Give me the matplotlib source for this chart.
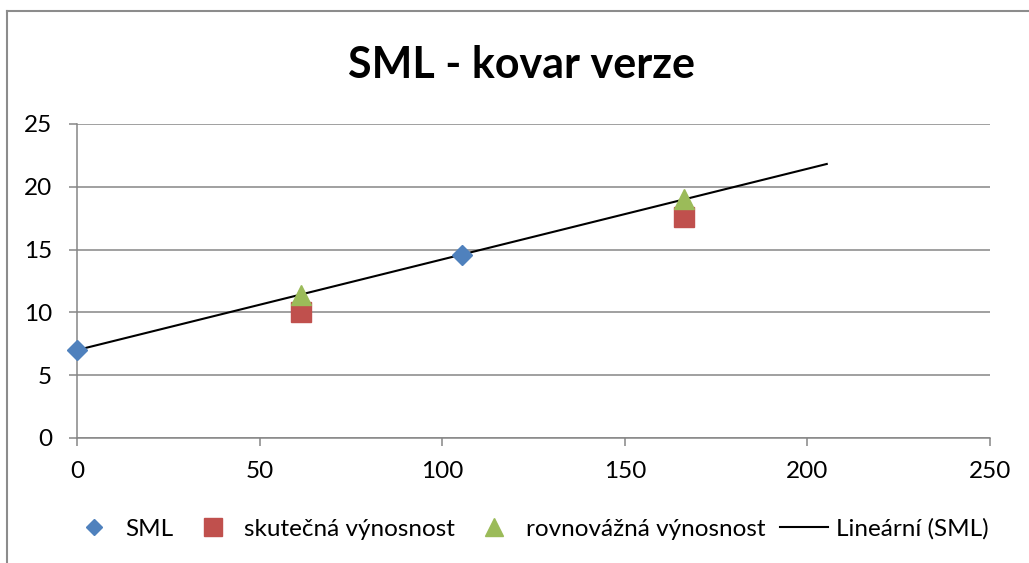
import numpy as np
import matplotlib
matplotlib.use("Agg")
import matplotlib.pyplot as plt
from matplotlib.lines import Line2D

plt.rcParams['font.family'] = ['Lato', 'DejaVu Sans']

title = "SML - kovar verze"
sml_x = [0, 105.3]
sml_y = [7.0, 14.6]
skut_x = [61.3, 166.3]
skut_y = [10.0, 17.57]
rovn_x = [61.3, 166.3]
rovn_y = [11.4, 19.0]
trend_forward = 100
labels = ["SML", "skutečná výnosnost", "rovnovážná výnosnost", "Lineární (SML)"]

blue = "#4F81BD"
red = "#C0504D"
green = "#9BBB59"
grid_c = "#868686"

W, H = 1029, 563
fig = plt.figure(figsize=(W / 100, H / 100), dpi=100)
ax = fig.add_axes([77 / W, 1 - 438 / H, (990 - 77) / W, (438 - 124) / H])

ax.set_xlim(0, 250)
ax.set_ylim(0, 25)
ax.set_xticks(np.arange(0, 251, 50))
ax.set_yticks(np.arange(0, 26, 5))
ax.yaxis.grid(True, color=grid_c, linewidth=1.1)
ax.set_axisbelow(True)
for s in ['top', 'right']:
    ax.spines[s].set_visible(False)
for s in ['left', 'bottom']:
    ax.spines[s].set_color(grid_c)
    ax.spines[s].set_linewidth(1.1)
ax.tick_params(axis='both', colors=grid_c, length=5.8, width=1.1, labelsize=17.5,
               labelcolor='black')
ax.tick_params(axis='x', pad=10.5)
ax.tick_params(axis='y', pad=12)

# trendline
coef = np.polyfit(sml_x, sml_y, 1)
tx = np.array([min(sml_x), max(sml_x) + trend_forward])
ax.plot(tx, np.polyval(coef, tx), color='black', linewidth=1.5, zorder=3)

ax.plot(sml_x, sml_y, linestyle='none', marker='D', ms=10.5, color=blue, zorder=4,
        clip_on=False)
ax.plot(skut_x, skut_y, linestyle='none', marker='s', ms=14, color=red, zorder=4,
        clip_on=False)
ax.plot(rovn_x, rovn_y, linestyle='none', marker='^', ms=14, color=green, zorder=4,
        clip_on=False)

fig.text(522 / W, 1 - 65 / H, title, ha='center', va='center', fontsize=31,
         fontweight='bold')

handles = [
    Line2D([], [], linestyle='none', marker='D', ms=8.5, color=blue),
    Line2D([], [], linestyle='none', marker='s', ms=13, color=red),
    Line2D([], [], linestyle='none', marker='^', ms=13, color=green),
    Line2D([], [], color='black', linewidth=1.5),
]
fig.legend(handles, labels, loc='center', bbox_to_anchor=(529 / W, 1 - 529 / H),
           ncol=4, frameon=False, fontsize=17.5, handlelength=2.0,
           columnspacing=0.6, handletextpad=0.3)

# chart frame
fig.add_artist(Line2D([7 / W, 7 / W], [0, 1 - 11 / H], color='#8c8c8c',
                      linewidth=1.5, transform=fig.transFigure))
fig.add_artist(Line2D([7 / W, 1], [1 - 11 / H, 1 - 11 / H], color='#8c8c8c',
                      linewidth=1.5, transform=fig.transFigure))

fig.savefig("out.png", dpi=100)
